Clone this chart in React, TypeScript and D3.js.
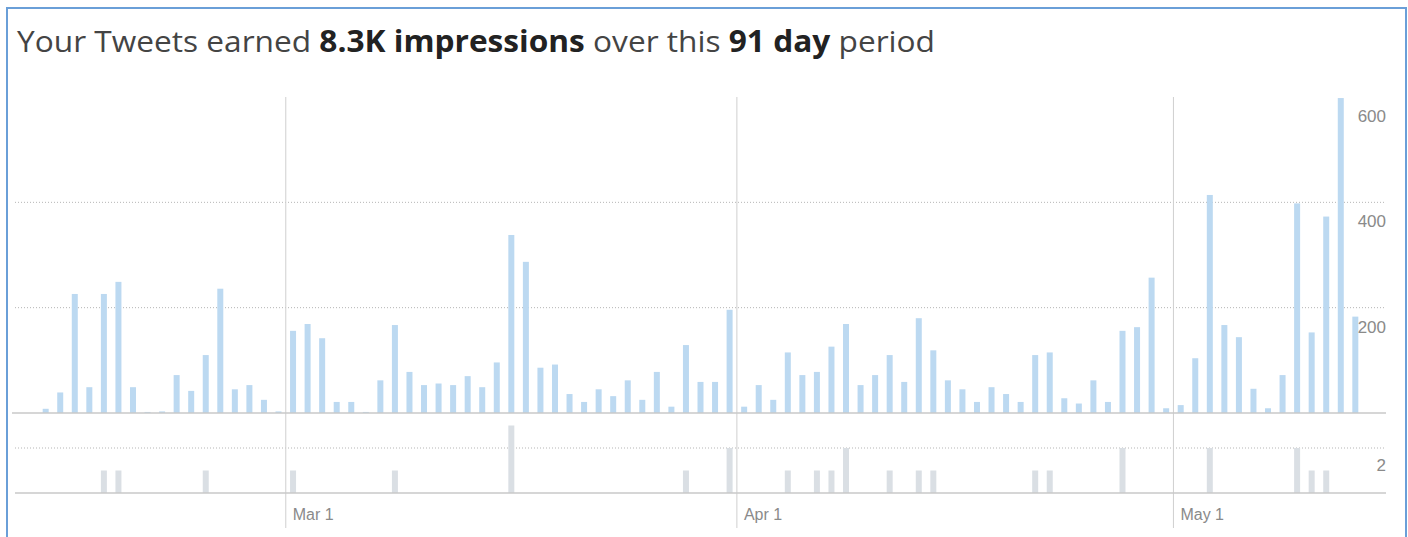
import React from "react";
import * as d3 from "d3";

const startDate = new Date(2015, 1, 12);
const endDate = new Date(2015, 4, 14);

const impressions: number[] = [
  8, 39, 226, 49, 226, 249, 49, 2, 3, 72, 42, 110, 236, 45, 53, 25, 3,
  156, 169, 142, 21, 21, 2, 62, 167, 78, 53, 56, 53, 70, 49, 96, 338, 287, 86, 92,
  36, 21, 45, 32, 62, 25, 78, 12, 129, 59, 59, 196,
  12, 53, 25, 115, 72, 78, 126, 169, 53, 72, 110, 59, 180, 119, 62, 45, 21, 49, 36, 21,
  110, 115, 28, 18, 62, 21, 156, 163, 257, 9,
  15, 104, 414, 167, 144, 46, 9, 72, 398, 153, 373, 598, 183,
];

const engagements: number[] = [
  0, 0, 0, 0, 1, 1, 0, 0, 0, 0, 0, 1, 0, 0, 0, 0, 0,
  1, 0, 0, 0, 0, 0, 0, 1, 0, 0, 0, 0, 0, 0, 0, 3, 0, 0, 0,
  0, 0, 0, 0, 0, 0, 0, 0, 1, 0, 0, 2,
  0, 0, 0, 1, 0, 1, 1, 2, 0, 0, 1, 0, 1, 1, 0, 0, 0, 0, 0, 0,
  1, 1, 0, 0, 0, 0, 2, 0, 0, 0,
  0, 0, 2, 0, 0, 0, 0, 0, 2, 1, 1, 0, 0,
];

const monthTicks = [new Date(2015, 2, 1), new Date(2015, 3, 1), new Date(2015, 4, 1)];
const topTicks = [200, 400, 600];
const bottomTicks = [2];

export default function App() {
  const W = 1408;
  const H = 537;
  const days = d3.timeDay.range(startDate, endDate);
  const x = d3.scaleTime().domain([startDate, endDate]).range([38.4, 1362.6]);
  const slot = x(d3.timeDay.offset(startDate, 1)) - x(startDate);
  const barW = 6;
  const yTop = d3.scaleLinear().domain([0, 600]).range([413, 97]);
  const yBot = d3.scaleLinear().domain([0, 2]).range([493, 448]);
  const gridL = 15;
  const gridR = 1386;
  const fmt = d3.timeFormat("%b %-d");

  return (
    <svg
      width={W}
      height={H}
      style={{ position: "absolute", left: 0, top: 0, background: "#fff" }}
    >
      <rect x={0} y={0} width={W} height={H} fill="#fff" />
      <rect x={7} y={8} width={1399} height={540} fill="none" stroke="#6a9fd8" strokeWidth={2} />

      <text
        x={17}
        y={52}
        fontFamily="'Open Sans', sans-serif"
        fontSize={30}
        fill="#444"
        textLength={918}
        lengthAdjust="spacingAndGlyphs"
      >
        Your Tweets earned <tspan fontWeight={700} fill="#222">8.3K impressions</tspan> over this{" "}
        <tspan fontWeight={700} fill="#222">91 day</tspan> period
      </text>

      {/* top gridlines */}
      {topTicks.filter((t) => t < 600).map((t) => (
        <line
          key={"tg" + t}
          x1={gridL}
          x2={gridR}
          y1={yTop(t)}
          y2={yTop(t)}
          stroke="#b5b5b5"
          strokeDasharray="1,2"
        />
      ))}
      {bottomTicks.map((t) => (
        <line
          key={"bg" + t}
          x1={gridL}
          x2={gridR}
          y1={yBot(t)}
          y2={yBot(t)}
          stroke="#b5b5b5"
          strokeDasharray="1,2"
        />
      ))}

      {/* month lines */}
      {monthTicks.map((m) => (
        <g key={"m" + m.getTime()}>
          <line x1={x(m)} x2={x(m)} y1={97} y2={528} stroke="#cfcfcf" strokeWidth={1} />
          <text
            x={x(m) + 7}
            y={520}
            fontFamily="'Liberation Sans', Arial, sans-serif"
            fontSize={16}
            fill="#8a8a8a"
          >
            {fmt(m)}
          </text>
        </g>
      ))}

      {/* top bars */}
      {days.map((d, i) => (
        <rect
          key={"t" + i}
          x={x(d) + (slot - barW) / 2}
          y={yTop(impressions[i])}
          width={barW}
          height={yTop(0) - yTop(impressions[i])}
          fill="#bcd9f1"
        />
      ))}

      {/* bottom bars */}
      {days.map((d, i) =>
        engagements[i] > 0 ? (
          <rect
            key={"b" + i}
            x={x(d) + (slot - barW) / 2}
            y={yBot(engagements[i])}
            width={barW}
            height={yBot(0) - yBot(engagements[i])}
            fill="#dadfe4"
          />
        ) : null
      )}

      {/* baselines */}
      <line x1={gridL - 3} x2={gridR} y1={yTop(0)} y2={yTop(0)} stroke="#c8c8c8" strokeWidth={1.5} />
      <line x1={gridL} x2={gridR} y1={yBot(0)} y2={yBot(0)} stroke="#c8c8c8" strokeWidth={1.5} />

      {/* y labels */}
      {topTicks.map((t) => (
        <text
          key={"tl" + t}
          x={1386}
          y={yTop(t) + 25}
          textAnchor="end"
          fontFamily="'Liberation Sans', Arial, sans-serif"
          fontSize={17}
          fill="#8a8a8a"
        >
          {t}
        </text>
      ))}
      {bottomTicks.map((t) => (
        <text
          key={"bl" + t}
          x={1386}
          y={yBot(t) + 23}
          textAnchor="end"
          fontFamily="'Liberation Sans', Arial, sans-serif"
          fontSize={17}
          fill="#8a8a8a"
        >
          {t}
        </text>
      ))}
    </svg>
  );
}
